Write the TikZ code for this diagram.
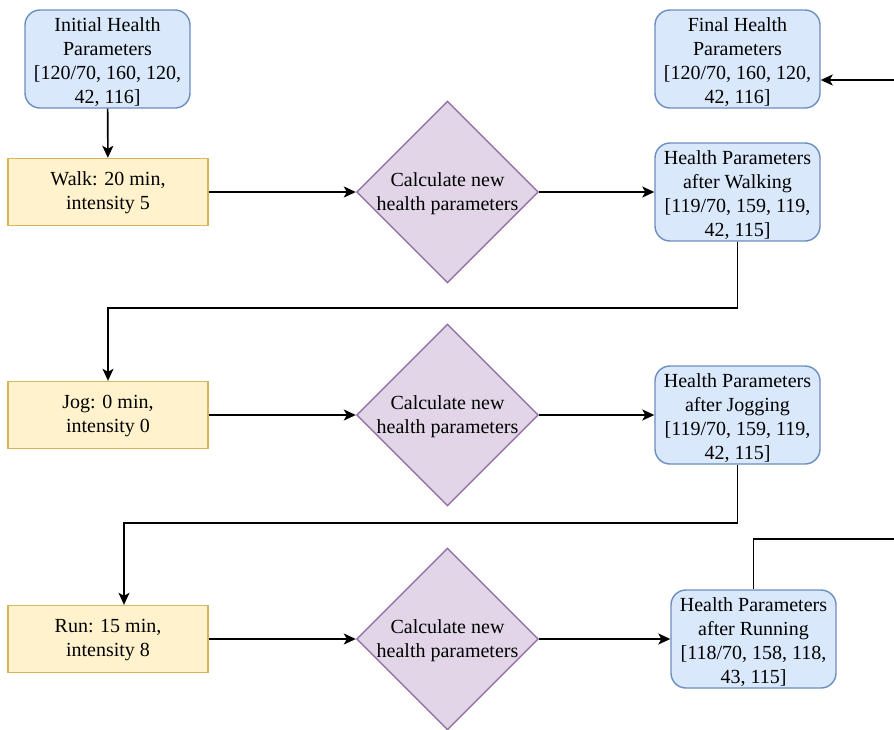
\documentclass[tikz,border=0pt]{standalone}
\usepackage{fontspec}
\setmainfont{LiberationSerif}[Extension=.ttf,UprightFont=*-Regular,BoldFont=*-Bold]
\usetikzlibrary{arrows.meta,shapes.geometric}
\definecolor{bluefill}{HTML}{DAE8FC}
\definecolor{bluedraw}{HTML}{6C8EBF}
\definecolor{yelfill}{HTML}{FFF2CC}
\definecolor{yeldraw}{HTML}{D6B656}
\definecolor{purfill}{HTML}{E1D5E7}
\definecolor{purdraw}{HTML}{9673A6}
\begin{document}
\begin{tikzpicture}[x=1pt,y=-1pt,
  font=\rmfamily\fontsize{20}{24}\selectfont,
  hbox/.style={draw=bluedraw,fill=bluefill,line width=1.4pt,rounded corners=15pt,
    minimum width=165pt,minimum height=98pt,align=center,inner sep=0pt,text height=91.5pt},
  abox/.style={draw=yeldraw,fill=yelfill,line width=1.4pt,
    minimum width=200pt,minimum height=67pt,align=center,inner sep=0pt,text height=39.5pt},
  calcbox/.style={draw=purdraw,fill=purfill,line width=1.4pt,diamond,
    minimum width=182pt,minimum height=182pt,inner sep=0pt},
  lbl/.style={align=center,inner sep=0pt,text height=41.5pt},
  arr/.style={draw=black,line width=1.6pt,-{Stealth[length=12pt,width=11pt,inset=3pt]}}]
\useasboundingbox (0,0) rectangle (894,729);
\clip (0,0) rectangle (894,729);
\fill[white] (0,0) rectangle (894,729);

\node[hbox] (init) at (107.5,59) {Initial Health\\Parameters\\{}[120/70, 160, 120,\\42, 116]};
\node[hbox] (final) at (737.5,59) {Final Health\\Parameters\\{}[120/70, 160, 120,\\42, 116]};

\node[abox] (walk) at (108,192) {Walk: 20 min,\\intensity 5};
\node[calcbox] (d1) at (447.5,192) {};
\node[lbl] (t1) at (d1) {Calculate new\\health parameters};
\node[hbox] (walking) at (737.5,192) {Health Parameters\\after Walking\\{}[119/70, 159, 119,\\42, 115]};

\node[abox] (jog) at (108,415) {Jog: 0 min,\\intensity 0};
\node[calcbox] (d2) at (447.5,415) {};
\node[lbl] (t2) at (d2) {Calculate new\\health parameters};
\node[hbox] (jogging) at (737.5,415) {Health Parameters\\after Jogging\\{}[119/70, 159, 119,\\42, 115]};

\node[abox] (run) at (108,639) {Run: 15 min,\\intensity 8};
\node[calcbox] (d3) at (447.5,639) {};
\node[lbl] (t3) at (d3) {Calculate new\\health parameters};
\node[hbox] (running) at (753.5,639) {Health Parameters\\after Running\\{}[118/70, 158, 118,\\43, 115]};

\draw[arr] (init) -- (walk);
\draw[arr] (walk.east) -- (d1.west);
\draw[arr] (d1.east) -- (walking.west);
\draw[arr] (walking.south) -- ++(0,66) -| (jog.north);
\draw[arr] (jog.east) -- (d2.west);
\draw[arr] (d2.east) -- (jogging.west);
\draw[arr] (jogging.south) -- ++(0,58) -| ([xshift=16pt]run.north);
\draw[arr] (run.east) -- (d3.west);
\draw[arr] (d3.east) -- (running.west);
\coordinate (r1) at (910,539);
\coordinate (r2) at (910,80);
\draw[arr] (running.north) |- (r1) -- (r2) -- (final.east |- r2);
\end{tikzpicture}
\end{document}
